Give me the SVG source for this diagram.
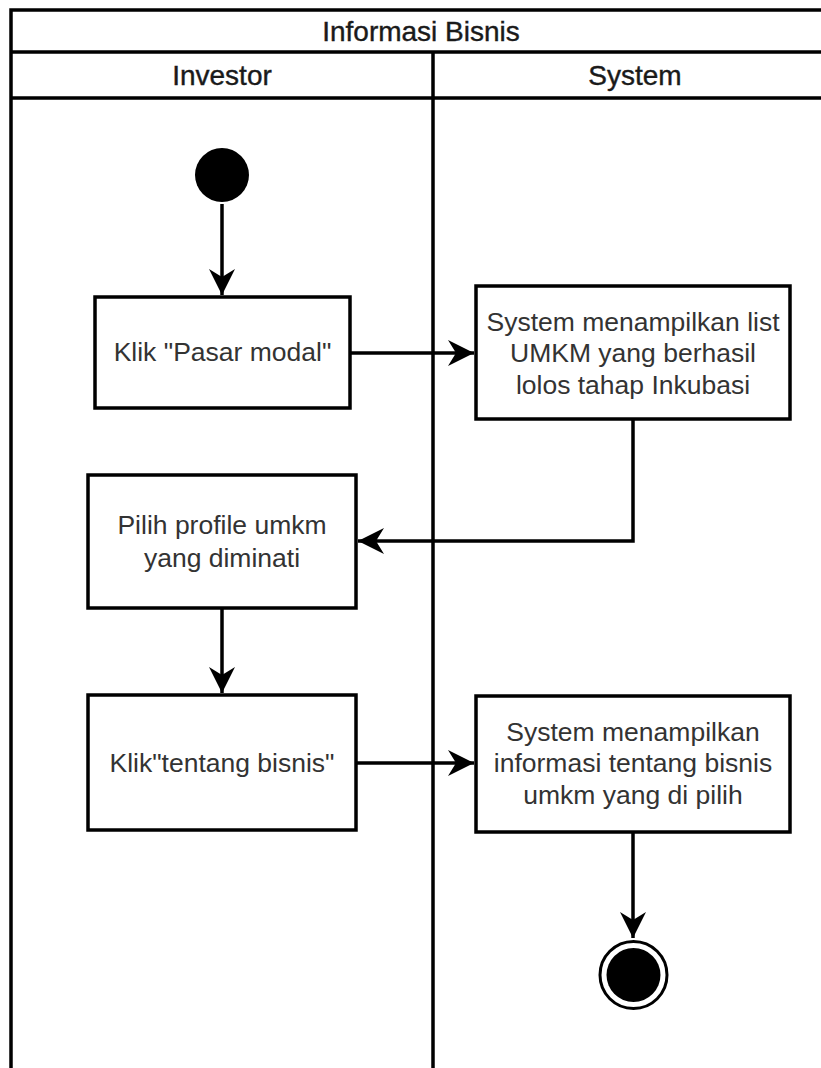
<svg xmlns="http://www.w3.org/2000/svg" width="821" height="1068" viewBox="0 0 821 1068">
<style>
.lane{stroke:#000;stroke-width:3.5;fill:none}
.box{fill:#fff;stroke:#000;stroke-width:3.5}
.hdr{font-family:"Liberation Sans",Arial,sans-serif;font-size:28px;fill:#1a1a1a;stroke:#1a1a1a;stroke-width:0.4;text-anchor:middle;dominant-baseline:central}
.txt{font-family:"Liberation Sans",Arial,sans-serif;font-size:26.5px;fill:#333;text-anchor:middle;dominant-baseline:central}
.edge{stroke:#000;stroke-width:3.5;fill:none}
</style>
<defs>
<marker id="arr" markerUnits="userSpaceOnUse" markerWidth="30" markerHeight="30" viewBox="-28 -15 30 30" refX="0" refY="0" orient="auto">
<path d="M0,0 L-26,-13 L-18,0 L-26,13 Z" fill="#000"/>
</marker>
</defs>
<rect width="821" height="1068" fill="#fff"/>
<g id="pool">
<path class="lane" d="M11,1068 V10 H821 M11,52 H821 M11,98 H821 M433,52 V1068"/>
<text class="hdr" x="421" y="31">Informasi Bisnis</text>
<text class="hdr" x="222" y="75">Investor</text>
<text class="hdr" x="635" y="75">System</text>
</g>
<g id="connectors">
<path class="edge" d="M222,204 V295" marker-end="url(#arr)"/>
<path class="edge" d="M350,353 H474" marker-end="url(#arr)"/>
<path class="edge" d="M633,420 V541 H358" marker-end="url(#arr)"/>
<path class="edge" d="M222,608 V693" marker-end="url(#arr)"/>
<path class="edge" d="M356,763 H474" marker-end="url(#arr)"/>
<path class="edge" d="M633,832 V938" marker-end="url(#arr)"/>
</g>
<g id="start"><circle cx="222" cy="175" r="27" fill="#000"/></g>
<g id="n1"><rect class="box" x="95" y="297" width="255" height="111"/><text class="txt" x="222.5" y="352">Klik "Pasar modal"</text></g>
<g id="n2"><rect class="box" x="476" y="286" width="314" height="133"/>
<text class="txt" x="633" y="322">System menampilkan list</text>
<text class="txt" x="633" y="353">UMKM yang berhasil</text>
<text class="txt" x="633" y="385">lolos tahap Inkubasi</text></g>
<g id="n3"><rect class="box" x="88" y="475" width="268" height="133"/>
<text class="txt" x="222" y="525">Pilih profile umkm</text>
<text class="txt" x="222" y="558">yang diminati</text></g>
<g id="n4"><rect class="box" x="88" y="695" width="268" height="135"/>
<text class="txt" x="222" y="763">Klik"tentang bisnis"</text></g>
<g id="n5"><rect class="box" x="476" y="696" width="314" height="136"/>
<text class="txt" x="633" y="732">System menampilkan</text>
<text class="txt" x="633" y="763">informasi tentang bisnis</text>
<text class="txt" x="633" y="795">umkm yang di pilih</text></g>
<g id="end"><circle cx="633.5" cy="975" r="33.5" fill="#fff" stroke="#000" stroke-width="3"/><circle cx="633.5" cy="975" r="27" fill="#000"/></g>
</svg>
